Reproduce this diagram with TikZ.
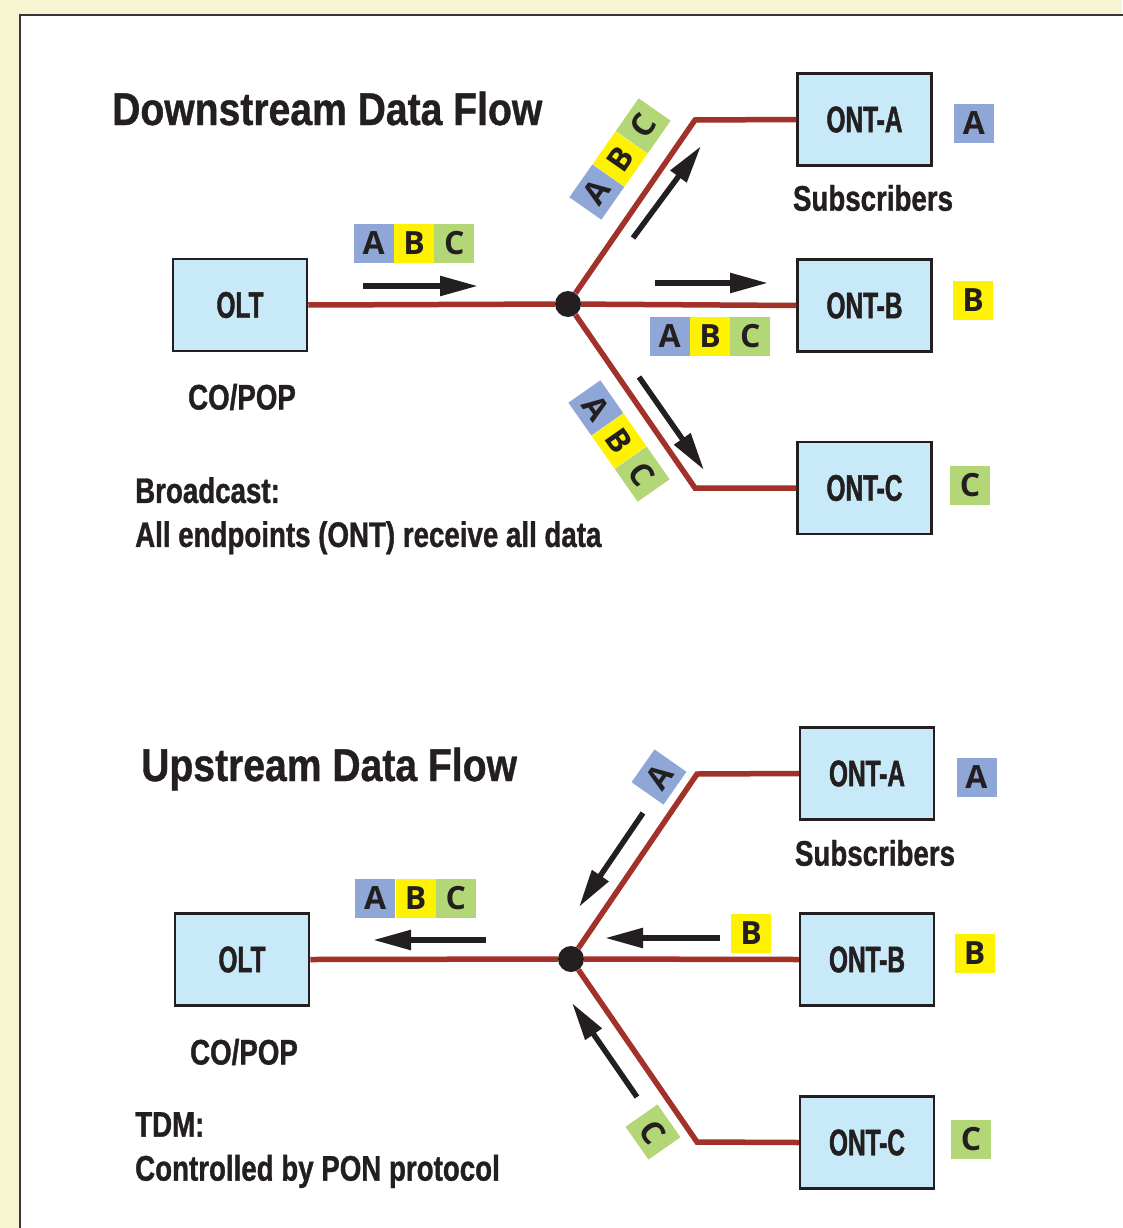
\documentclass[tikz,border=0pt]{standalone}
\usepackage{fontspec}
\setmainfont{Liberation Sans}[FakeStretch=0.78, BoldFeatures={FakeBold=1}]
\newfontfamily\headfont{Liberation Sans}[FakeStretch=0.85, BoldFeatures={FakeBold=0.8}]
\newfontfamily\boxfont{Liberation Sans}[FakeStretch=0.66, BoldFeatures={FakeBold=1.2}]
\newfontfamily\cellfont{Open Sans}
\usepackage{tikz}
\usetikzlibrary{
  arrows.meta,
  positioning,
}
\definecolor{pageBg}{HTML}{F5F5D2}
\definecolor{inkBlack}{HTML}{231F20}
\definecolor{fiberRed}{HTML}{A2312A}
\definecolor{ontBlue}{HTML}{C8E9F8}
\definecolor{cellBlue}{HTML}{8EA7D6}
\definecolor{cellYellow}{HTML}{FFF200}
\definecolor{cellGreen}{HTML}{B3D677}

\begin{document}
\begin{tikzpicture}[
    x=1pt, y=-1pt,
    ontbox/.style={draw=inkBlack, fill=ontBlue, line width=2.5pt,
                   minimum width=134pt, minimum height=92pt, inner sep=0pt,
                   text=inkBlack, font=\boxfont\bfseries\fontsize{37}{37}\selectfont},
    splitter/.style={circle, fill=inkBlack, minimum size=26pt, inner sep=0pt},
    fiber/.style={draw=fiberRed, line width=5.5pt},
    flow/.style={draw=inkBlack, line width=5.5pt,
                 -{Triangle[length=38pt, width=19pt]}},
    cell/.style={minimum width=40pt, minimum height=39pt, inner sep=0pt,
                 text=inkBlack, font=\cellfont\bfseries\fontsize{32}{32}\selectfont},
    heading/.style={anchor=base west, inner sep=0pt, text=inkBlack,
                    font=\headfont\bfseries\fontsize{46}{46}\selectfont},
    caption/.style={inner sep=0pt, text=inkBlack,
                    font=\bfseries\fontsize{35.5}{44}\selectfont},
  ]
  \useasboundingbox (0,0) rectangle (1122,1228);
  \fill[pageBg] (0,0) rectangle (1122,1228);
  \filldraw[fill=white, draw=inkBlack!90, line width=2.5pt] (20,15) rectangle (1140,1245);

  % downstream
  \node[heading] (dsTitle) at (112,125) {Downstream Data Flow};
  \node[ontbox] (dsOlt) at (240,305) {OLT};
  \node[caption] (dsCoPop) at (242,397) {CO/POP};
  \node[ontbox] (dsOntA) at (864.5,119.5) {ONT-A};
  \node[ontbox] (dsOntB) at (864.5,305.5) {ONT-B};
  \node[ontbox] (dsOntC) at (864.5,488) {ONT-C};
  \node[caption] (dsSubs) at (873,198) {Subscribers};
  \node[cell, fill=cellBlue] (dsTagA) at (974,123.5) {A};
  \node[cell, fill=cellYellow] (dsTagB) at (973,300) {B};
  \node[cell, fill=cellGreen] (dsTagC) at (970,485.5) {C};
  \node[splitter] (dsSplit) at (568,304) {};
  \coordinate (dsBendA) at (695,120);
  \coordinate (dsBendC) at (695,488);

  \draw[fiber] (dsOlt.east) -- (dsSplit);
  \draw[fiber] (dsSplit) -- (dsOntB.west);
  \draw[fiber] (dsSplit) -- (dsBendA) -- (dsOntA.west);
  \draw[fiber] (dsSplit) -- (dsBendC) -- (dsOntC.west);

  \node[cell, fill=cellYellow] (dsInB) at (414,243.5) {B};
  \node[cell, fill=cellBlue, left=0pt of dsInB] (dsInA) {A};
  \node[cell, fill=cellGreen, right=0pt of dsInB] (dsInC) {C};
  \node[cell, fill=cellYellow] (dsMidB) at (710,336.5) {B};
  \node[cell, fill=cellBlue, left=0pt of dsMidB] (dsMidA) {A};
  \node[cell, fill=cellGreen, right=0pt of dsMidB] (dsMidC) {C};
  \node[cell, fill=cellYellow, rotate=55] (dsUpB) at (620,159) {B};
  \node[cell, fill=cellBlue, rotate=55, left=0pt of dsUpB] (dsUpA) {A};
  \node[cell, fill=cellGreen, rotate=55, right=0pt of dsUpB] (dsUpC) {C};
  \node[cell, fill=cellYellow, rotate=-55] (dsDnB) at (619,441) {B};
  \node[cell, fill=cellBlue, rotate=-55, left=0pt of dsDnB] (dsDnA) {A};
  \node[cell, fill=cellGreen, rotate=-55, right=0pt of dsDnB] (dsDnC) {C};

  \coordinate (dsArIn0) at (363,286);  \coordinate (dsArIn1) at (478,286);
  \coordinate (dsArB0) at (655,283);   \coordinate (dsArB1) at (768,283);
  \coordinate (dsArA0) at (633,238);   \coordinate (dsArA1) at (701,146);
  \coordinate (dsArC0) at (639,377);   \coordinate (dsArC1) at (704,470);
  \draw[flow] (dsArIn0) -- (dsArIn1);
  \draw[flow] (dsArB0) -- (dsArB1);
  \draw[flow] (dsArA0) -- (dsArA1);
  \draw[flow] (dsArC0) -- (dsArC1);

  \node[caption, anchor=north west, align=left] (dsNote) at (135,477)
    {Broadcast:\\All endpoints (ONT) receive all data};

  % upstream
  \node[heading] (usTitle) at (141,781) {Upstream Data Flow};
  \node[ontbox] (usOlt) at (242,959.5) {OLT};
  \node[caption] (usCoPop) at (244,1052) {CO/POP};
  \node[ontbox] (usOntA) at (867,773.5) {ONT-A};
  \node[ontbox] (usOntB) at (867,959.5) {ONT-B};
  \node[ontbox] (usOntC) at (867,1142.5) {ONT-C};
  \node[caption] (usSubs) at (875,853) {Subscribers};
  \node[cell, fill=cellBlue] (usTagA) at (976.5,777.5) {A};
  \node[cell, fill=cellYellow] (usTagB) at (974.5,953.5) {B};
  \node[cell, fill=cellGreen] (usTagC) at (971,1139) {C};
  \node[splitter] (usSplit) at (571,959) {};
  \coordinate (usBendA) at (697,774);
  \coordinate (usBendC) at (697,1142);

  \draw[fiber] (usOlt.east) -- (usSplit);
  \draw[fiber] (usSplit) -- (usOntB.west);
  \draw[fiber] (usSplit) -- (usBendA) -- (usOntA.west);
  \draw[fiber] (usSplit) -- (usBendC) -- (usOntC.west);

  \node[cell, fill=cellYellow] (usInB) at (415.5,898.5) {B};
  \node[cell, fill=cellBlue, left=0pt of usInB] (usInA) {A};
  \node[cell, fill=cellGreen, right=0pt of usInB] (usInC) {C};
  \node[cell, fill=cellYellow] (usLineB) at (751,933.5) {B};
  \node[cell, fill=cellBlue, rotate=55] (usLineA) at (659,777) {A};
  \node[cell, fill=cellGreen, rotate=-55] (usLineC) at (653,1132) {C};

  \coordinate (usArIn0) at (486,940);  \coordinate (usArIn1) at (373,940);
  \coordinate (usArB0) at (720,938);   \coordinate (usArB1) at (605,938);
  \coordinate (usArA0) at (643,813);   \coordinate (usArA1) at (579,907);
  \coordinate (usArC0) at (637,1097);  \coordinate (usArC1) at (572,1003);
  \draw[flow] (usArIn0) -- (usArIn1);
  \draw[flow] (usArB0) -- (usArB1);
  \draw[flow] (usArA0) -- (usArA1);
  \draw[flow] (usArC0) -- (usArC1);

  \node[caption, anchor=north west, align=left] (usNote) at (135,1112)
    {TDM:\\Controlled by PON protocol};
\end{tikzpicture}
\end{document}
